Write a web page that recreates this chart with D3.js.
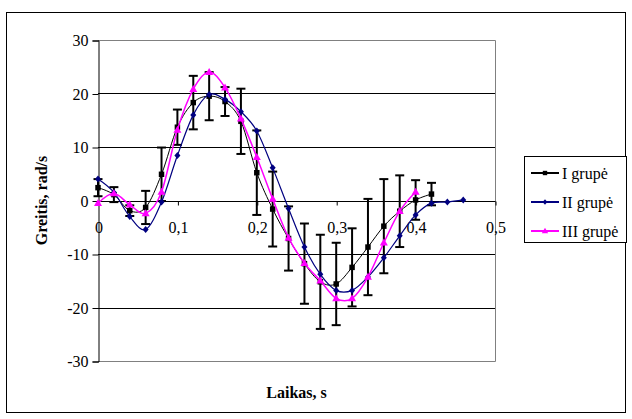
<!DOCTYPE html>
<html>
<head>
<meta charset="utf-8">
<script src="https://cdn.jsdelivr.net/npm/d3@7"></script>
<style>
  html, body { margin: 0; padding: 0; background: #fff; }
  svg { display: block; }
  text { font-family: "Liberation Serif", "Times New Roman", serif; fill: #000; }
</style>
</head>
<body>
<svg id="chart" width="632" height="419"></svg>
<script>
// Time samples, s
const time = [0, 0.02, 0.04, 0.06, 0.08, 0.10, 0.12, 0.14, 0.16, 0.18, 0.20, 0.22,
              0.24, 0.26, 0.28, 0.30, 0.32, 0.34, 0.36, 0.38, 0.40, 0.42, 0.44, 0.46];

// Angular velocity per group, rad/s
const group1 = [2.4, 1.1, -1.9, -1.3, 4.9, 13.7, 18.3, 19.5, 18.5, 14.8, 5.2, -1.6,
                -7.1, -11.8, -15.2, -15.6, -12.5, -8.7, -4.8, -2.0, 0.1, 1.2];
const group1Err = [1.6, 1.4, 1.0, 3.1, 5.0, 3.3, 5.0, 4.5, 2.7, 6.1, 7.9, 7.0,
                   6.0, 7.5, 8.8, 7.7, 7.3, 9.0, 8.8, 6.7, 3.7, 2.1];
const group2 = [4.0, 1.5, -3.0, -5.4, -0.3, 8.4, 16.0, 19.8, 18.9, 16.6, 13.0, 6.1,
                -1.5, -8.7, -13.8, -16.8, -16.8, -14.3, -10.7, -6.6, -2.7, -0.5, -0.3, 0.1];
const group3 = [-0.5, 1.3, -0.8, -2.4, 1.6, 13.2, 20.8, 24.0, 21.1, 15.3, 8.1, 0.3,
                -7.0, -11.7, -15.0, -18.3, -18.3, -14.3, -7.9, -2.0, 1.6];

const seriesNames = ["I grupė", "II grupė", "III grupė"];
const xTicks = [0, 0.1, 0.2, 0.3, 0.4, 0.5];
const yTicks = [-30, -20, -10, 0, 10, 20, 30];

const svg = d3.select("#chart");

// outer chart frame
svg.append("rect")
  .attr("x", 6.5).attr("y", 12.5).attr("width", 619).attr("height", 400)
  .attr("fill", "none").attr("stroke", "#000").attr("stroke-width", 1);

const plot = { left: 98, right: 495, top: 40, bottom: 361 };
const x = d3.scaleLinear().domain([0, 0.5]).range([plot.left, plot.right]);
const y = d3.scaleLinear().domain([-30, 30]).range([plot.bottom, plot.top]);

// horizontal gridlines
svg.append("g")
  .selectAll("line").data(yTicks).join("line")
  .attr("x1", plot.left).attr("x2", plot.right)
  .attr("y1", d => Math.round(y(d)) + 0.5).attr("y2", d => Math.round(y(d)) + 0.5)
  .attr("stroke", "#000").attr("stroke-width", 1);

// plot area frame (right and bottom edges)
svg.append("path")
  .attr("d", `M${plot.left},${Math.round(plot.top) + 0.5}H${plot.right + 0.5}V${Math.round(plot.bottom) + 0.5}H${plot.left}`)
  .attr("fill", "none").attr("stroke", "#808080").attr("stroke-width", 1);

// y axis
const yAxis = d3.axisLeft(y).tickValues(yTicks).tickSize(6).tickPadding(4)
  .tickFormat(d => d < 0 ? "-" + Math.abs(d) : String(d));
const yg = svg.append("g").attr("transform", `translate(${plot.left + 0.5},0.5)`).call(yAxis);
yg.select(".domain").attr("stroke", "#000");
yg.selectAll(".tick line").attr("stroke", "#000");
yg.selectAll(".tick text")
  .style("font-family", '"Liberation Serif", serif').style("font-size", "16px");

// x axis crossing at zero
const xAxis = d3.axisBottom(x).tickValues(xTicks).tickSize(4).tickPadding(16)
  .tickFormat(d => d === 0 ? "0" : d3.format(".1f")(d).replace(".", ","));
const xg = svg.append("g").attr("transform", `translate(0.5,${Math.round(y(0)) + 0.5})`).call(xAxis);
xg.select(".domain").attr("stroke", "#000").attr("d", `M${plot.left},0H${plot.right}`);
xg.selectAll(".tick line").attr("stroke", "#000");
xg.selectAll(".tick text")
  .style("font-family", '"Liberation Serif", serif').style("font-size", "16px");

// axis titles
svg.append("text")
  .attr("transform", `translate(47,${(plot.top + plot.bottom) / 2}) rotate(-90)`)
  .attr("text-anchor", "middle").attr("font-weight", "bold").attr("font-size", 16)
  .text("Greitis, rad/s");
svg.append("text")
  .attr("x", (plot.left + plot.right) / 2).attr("y", 398)
  .attr("text-anchor", "middle").attr("font-weight", "bold").attr("font-size", 16)
  .text("Laikas, s");

const smooth = d3.line().x(d => x(d.t)).y(d => y(d.v)).curve(d3.curveCardinal.tension(0));

function pts(values) { return values.map((v, i) => ({ t: time[i], v: v })); }

const series = [
  { name: seriesNames[0], data: pts(group1), err: group1Err, color: "#000000", width: 1, marker: "square" },
  { name: seriesNames[1], data: pts(group2), color: "#000080", width: 1.2, marker: "diamond" },
  { name: seriesNames[2], data: pts(group3), color: "#FF00FF", width: 1.5, marker: "triangle" }
];

function markerPath(kind) {
  if (kind === "square") return d3.symbol(d3.symbolSquare, 30)();
  if (kind === "diamond") return "M0,-3.5L3,0L0,3.5L-3,0Z";
  return "M0,-4.2L4,2.8L-4,2.8Z";
}

series.forEach(s => {
  const g = svg.append("g");
  g.append("path").attr("d", smooth(s.data))
    .attr("fill", "none").attr("stroke", s.color).attr("stroke-width", s.width);

  if (s.err) {
    const eb = g.append("g").attr("stroke", "#000").attr("stroke-width", 2);
    s.data.forEach((d, i) => {
      const cx = x(d.t), top = y(d.v + s.err[i]), bot = y(d.v - s.err[i]);
      eb.append("line").attr("x1", cx).attr("x2", cx).attr("y1", top).attr("y2", bot);
      eb.append("line").attr("x1", cx - 4.5).attr("x2", cx + 4.5).attr("y1", top).attr("y2", top);
      eb.append("line").attr("x1", cx - 4.5).attr("x2", cx + 4.5).attr("y1", bot).attr("y2", bot);
    });
  }

  g.selectAll("path.mk").data(s.data).join("path").attr("class", "mk")
    .attr("transform", d => `translate(${x(d.t)},${y(d.v)})`)
    .attr("d", markerPath(s.marker))
    .attr("fill", s.color);
});

// legend
const lg = svg.append("g");
lg.append("rect").attr("x", 524.5).attr("y", 156.5).attr("width", 102).attr("height", 86)
  .attr("fill", "#fff").attr("stroke", "#000");
series.forEach((s, i) => {
  const ly = 173 + i * 29;
  lg.append("line").attr("x1", 531).attr("x2", 559).attr("y1", ly).attr("y2", ly)
    .attr("stroke", s.color).attr("stroke-width", 2);
  lg.append("path").attr("transform", `translate(545,${ly})`)
    .attr("d", markerPath(s.marker)).attr("fill", s.color)
    .attr("transform", `translate(545,${ly}) scale(0.8)`);
  lg.append("text").attr("x", 562).attr("y", ly + 5.5).attr("font-size", 16).text(s.name);
});
</script>
</body>
</html>
